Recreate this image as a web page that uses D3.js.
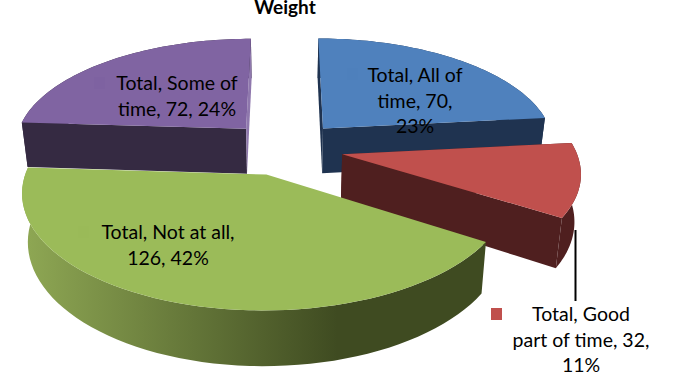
<!DOCTYPE html>
<html>
<head>
<meta charset="utf-8">
<script src="https://cdn.jsdelivr.net/npm/d3@7"></script>
<style>
	html, body { margin: 0; padding: 0; background: #fff; }
	svg { display: block; }
	text { font-family: Lato, 'Open Sans', sans-serif; fill: #000; }
</style>
</head>
<body>
<svg class="chart" width="685" height="383"></svg>
<script>
const chartTitle = 'Weight'
const categories = ['All of time', 'Good part of time', 'Not at all', 'Some of time']
const values = [70, 32, 126, 72]
const percents = [23, 11, 42, 24]
const labelLines = [
	['Total, All of', 'time, 70,', '23%'],
	['Total, Good', 'part of time, 32,', '11%'],
	['Total, Not at all,', '126, 42%'],
	['Total, Some of', 'time, 72, 24%'],
]

const topColors = ['#4f81bd', '#c0504d', '#9bbb59', '#8064a2']
const wallColors = ['#1f3350', '#4f1f1f', 'url(#greenWall)', '#352a42']
const keyColors = ['#4e80bc', '#c0504d', '#9aba58', '#7e62a1']

// where the labels sit: centre x, first baseline, legend key x,y
const labelPos = [
	{ x: 415, y: 82, keyX: 347, keyY: 68 },
	{ x: 581, y: 321, keyX: 491, keyY: 308 },
	{ x: 168, y: 239, keyX: 78, keyY: 226 },
	{ x: 177, y: 90, keyX: 94, keyY: 77 },
]

// tilted pie plane, seen in perspective
const cx = 285,
	cy = 148,
	radiusX = 233,
	radiusY = 108,
	perspective = 0.143,
	explode = 0.25

const svg = d3.select('.chart')

const gradient = svg
	.append('defs')
	.append('linearGradient')
	.attr('id', 'greenWall')
	.attr('x1', 0)
	.attr('x2', 1)
	.attr('y1', 0)
	.attr('y2', 0)
gradient.append('stop').attr('offset', 0).attr('stop-color', '#8fa854')
gradient.append('stop').attr('offset', 0.68).attr('stop-color', '#3f4b21')
gradient.append('stop').attr('offset', 1).attr('stop-color', '#3f4b21')

const slices = d3.pie().sort(null)(values)

const projectTop = (u, v) => {
	const s = 1 + perspective * v
	return [cx + (radiusX * u) / s, cy - (radiusY * v) / s]
}
// the underside is the same outline, slightly narrower and pushed down
const toBottom = ([x, y]) => [cx + (x - cx) * 0.978, cy + (y - cy) * 1.06 + 46]

const line = d3.line()

function sliceGeometry(slice) {
	const mid = (slice.startAngle + slice.endAngle) / 2
	const offU = Math.sin(mid) * explode
	const offV = Math.cos(mid) * explode
	const apex = projectTop(offU, offV)
	const steps = d3.range(0, 61).map(i => slice.startAngle + ((slice.endAngle - slice.startAngle) * i) / 60)
	const rim = steps.map(a => projectTop(offU + Math.sin(a), offV + Math.cos(a)))
	return { apex, rim }
}

function drawSlice(i) {
	const { apex, rim } = sliceGeometry(slices[i])
	const g = svg.append('g')
	const first = rim[0]
	const last = rim[rim.length - 1]

	const startWall = [apex, first, toBottom(first), toBottom(apex)]
	const endWall = [apex, last, toBottom(last), toBottom(apex)]
	const arcWall = rim.concat(rim.map(toBottom).reverse())

	g.append('path').attr('d', line(arcWall) + 'Z').attr('fill', wallColors[i])
	if (i !== 2) {
		g.append('path').attr('d', line(startWall) + 'Z').attr('fill', wallColors[i])
		// purple's far wall catches the light, the rest stay dark
		g.append('path')
			.attr('d', line(endWall) + 'Z')
			.attr('fill', i === 3 ? '#8f78ad' : wallColors[i])
	}
	g.append('path')
		.attr('d', line([apex].concat(rim)) + 'Z')
		.attr('fill', topColors[i])
}

// painter's order, back slices first
;[0, 3, 1, 2].forEach(drawSlice)

svg.append('line')
	.attr('x1', 575.5)
	.attr('x2', 575.5)
	.attr('y1', 230)
	.attr('y2', 301)
	.attr('stroke', '#000')
	.attr('stroke-width', 2)

svg.append('text')
	.attr('x', 285)
	.attr('y', 14)
	.attr('text-anchor', 'middle')
	.attr('font-size', 19)
	.attr('font-weight', 700)
	.text(chartTitle)

categories.forEach((category, i) => {
	const pos = labelPos[i]
	svg.append('rect')
		.attr('x', pos.keyX)
		.attr('y', pos.keyY)
		.attr('width', 11)
		.attr('height', 12)
		.attr('fill', keyColors[i])

	const label = svg
		.append('text')
		.attr('class', 'label')
		.attr('text-anchor', 'middle')
		.attr('font-size', 19.5)
	labelLines[i].forEach((txt, j) => {
		label
			.append('tspan')
			.attr('x', pos.x)
			.attr('y', pos.y + j * 25.5)
			.text(txt)
	})
})
</script>
</body>
</html>
